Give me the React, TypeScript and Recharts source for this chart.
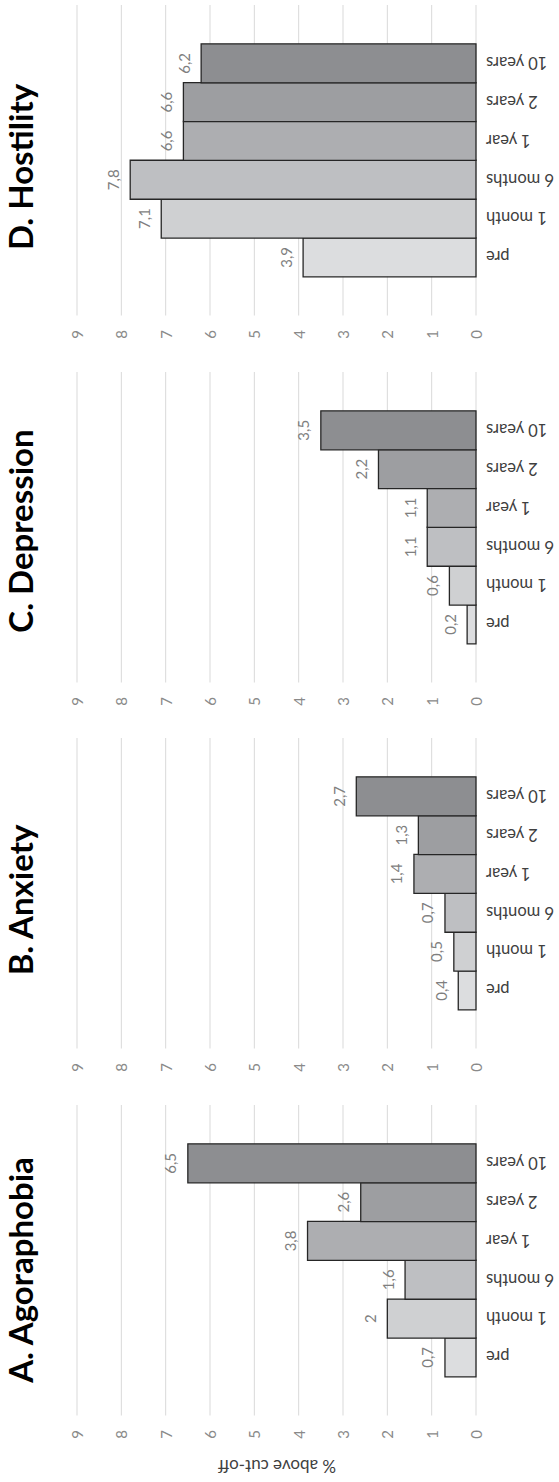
import React from 'react';
import { BarChart, Bar, XAxis, YAxis, CartesianGrid, Cell, LabelList } from 'recharts';

const categories = ['pre', '1 month', '6 months', '1 year', '2 years', '10 years'];
const hostility = [3.9, 7.1, 7.8, 6.6, 6.6, 6.2];
const depression = [0.2, 0.6, 1.1, 1.1, 2.2, 3.5];
const anxiety = [0.4, 0.5, 0.7, 1.4, 1.3, 2.7];
const agoraphobia = [0.7, 2, 1.6, 3.8, 2.6, 6.5];
const valueTicks = [0, 1, 2, 3, 4, 5, 6, 7, 8, 9];
const panelTitles = ['D. Hostility', 'C. Depression', 'B. Anxiety', 'A. Agoraphobia'];
const panelValues = [hostility, depression, anxiety, agoraphobia];
const axisTitle = '% above cut-off';

const barColors = ['#dcdddf', '#cfd0d2', '#bebfc2', '#adaeb1', '#9d9ea1', '#8d8e91'];

const FONT = 'Lato, "Open Sans", sans-serif';
const W = 559;
const H = 1482;
const STEP = 366.7;
const PLOT_TOP = 5;
const PLOT_H = 310.5;
const LEFT = 77;
const RIGHT_W = 83;
const XAXIS_H = 40;
const titleCenters = [167, 531, 900, 1270];

const fmt = (v: number) => String(v).replace('.', ',');

const ValueTick = (props: any) => {
  const { x, y, payload } = props;
  return (
    <text
      x={x}
      y={y}
      transform={`rotate(-90 ${x} ${y})`}
      textAnchor="middle"
      dominantBaseline="central"
      fontSize={15}
      fill="#8a8a8a"
      fontFamily={FONT}
    >
      {payload.value}
    </text>
  );
};

const CatTick = (props: any) => {
  const { x, y, payload } = props;
  return (
    <text
      x={x}
      y={y}
      transform={`rotate(180 ${x} ${y})`}
      textAnchor="end"
      dominantBaseline="central"
      fontSize={16.5}
      fill="#404040"
      fontFamily={FONT}
    >
      {payload.value}
    </text>
  );
};

const ValueLabel = (props: any) => {
  const vb = props.viewBox || {};
  const x = props.x ?? vb.x;
  const y = props.y ?? vb.y;
  const width = props.width ?? vb.width;
  const height = props.height ?? vb.height;
  const left = Math.min(x, x + width);
  const cx = left - 17.5;
  const cy = y + height / 2;
  return (
    <text
      x={cx}
      y={cy}
      transform={`rotate(-90 ${cx} ${cy})`}
      textAnchor="middle"
      dominantBaseline="central"
      fontSize={15}
      fill="#7f7f7f"
      fontFamily={FONT}
    >
      {fmt(props.value)}
    </text>
  );
};

function Panel({ values, index }: { values: number[]; index: number }) {
  const top = index * STEP;
  const isLast = index === 3;
  const height = isLast ? H - top : STEP;
  const data = categories.map((name, i) => ({ name, value: values[i] }));
  const band = PLOT_H / 8;
  return (
    <div style={{ position: 'absolute', left: 0, top, width: W, height }}>
      <BarChart
        width={W}
        height={height}
        data={data}
        layout="vertical"
        barCategoryGap={0}
        margin={{ top: PLOT_TOP, right: 0, left: LEFT, bottom: height - PLOT_TOP - PLOT_H - XAXIS_H }}
      >
        <CartesianGrid horizontal={false} stroke="#d9d9d9" strokeWidth={1} />
        <XAxis
          type="number"
          domain={[0, 9]}
          ticks={valueTicks}
          interval={0}
          reversed
          axisLine={false}
          tickLine={false}
          tickSize={0}
          tickMargin={19}
          height={XAXIS_H}
          tick={<ValueTick />}
        />
        <YAxis
          type="category"
          dataKey="name"
          orientation="right"
          width={RIGHT_W}
          reversed
          interval={0}
          axisLine={false}
          tickLine={false}
          tickSize={0}
          tickMargin={10}
          padding={{ top: band, bottom: band }}
          tick={<CatTick />}
        />
        <Bar dataKey="value" isAnimationActive={false} stroke="#262626" strokeWidth={1.3}>
          {data.map((d, i) => (
            <Cell key={d.name} fill={barColors[i]} />
          ))}
          <LabelList dataKey="value" content={<ValueLabel />} />
        </Bar>
      </BarChart>
    </div>
  );
}

export default function App() {
  return (
    <div
      style={{
        position: 'absolute',
        left: 0,
        top: 0,
        width: W,
        height: H,
        background: '#ffffff',
        fontFamily: FONT,
        overflow: 'hidden',
      }}
    >
      {panelValues.map((vals, i) => (
        <Panel key={panelTitles[i]} values={vals} index={i} />
      ))}
      <svg
        width={W}
        height={H}
        style={{ position: 'absolute', left: 0, top: 0, pointerEvents: 'none' }}
      >
        {panelTitles.map((t, i) => (
          <text
            key={t}
            x={33}
            y={titleCenters[i]}
            transform={`rotate(-90 33 ${titleCenters[i]})`}
            textAnchor="middle"
            fontSize={33}
            fontWeight={700}
            fill="#000000"
            fontFamily={FONT}
          >
            {t}
          </text>
        ))}
        <text
          x={277}
          y={1466}
          transform="rotate(180 277 1466)"
          textAnchor="middle"
          dominantBaseline="central"
          fontSize={17}
          fill="#404040"
          fontFamily={FONT}
        >
          {axisTitle}
        </text>
      </svg>
    </div>
  );
}
